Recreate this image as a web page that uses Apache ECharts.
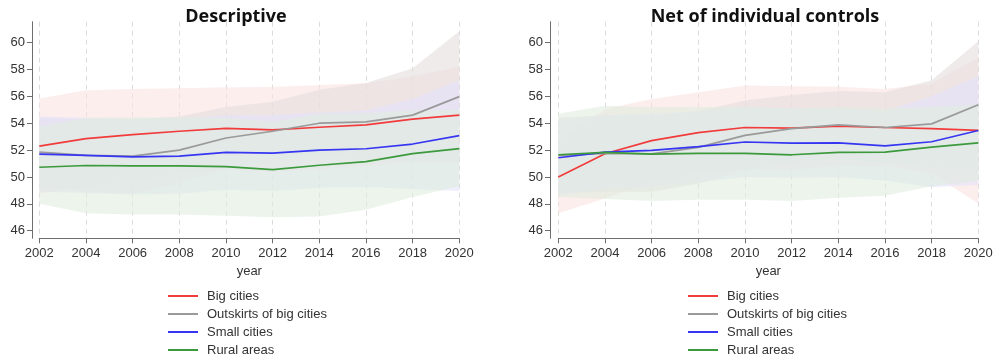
<!DOCTYPE html>
<html>
<head>
<meta charset="utf-8">
<script src="https://cdn.jsdelivr.net/npm/echarts@6/dist/echarts.min.js"></script>
<style>
  html, body { margin: 0; padding: 0; background: #fff; }
  #chart { width: 998px; height: 361px; }
</style>
</head>
<body>
<div id="chart"></div>
<script>
// Survey years on the horizontal axis
const years = ['2002', '2004', '2006', '2008', '2010', '2012', '2014', '2016', '2018', '2020'];
const yTicks = [46, 48, 50, 52, 54, 56, 58, 60];
const groupNames = ['Big cities', 'Outskirts of big cities', 'Small cities', 'Rural areas'];

// Panel 1: descriptive means and confidence bounds
const descBig       = [52.30, 52.85, 53.15, 53.40, 53.62, 53.50, 53.70, 53.87, 54.30, 54.60];
const descOutskirts = [51.85, 51.60, 51.55, 52.00, 52.90, 53.40, 54.00, 54.10, 54.60, 55.98];
const descSmall     = [51.70, 51.60, 51.50, 51.55, 51.83, 51.78, 52.00, 52.10, 52.45, 53.08];
const descRural     = [50.72, 50.85, 50.82, 50.82, 50.77, 50.54, 50.87, 51.14, 51.74, 52.11];

const descBigHi       = [55.85, 56.45, 56.55, 56.60, 56.68, 56.70, 56.85, 56.97, 57.50, 58.20];
const descBigLo       = [48.75, 49.25, 49.75, 50.20, 50.56, 50.30, 50.55, 50.77, 51.10, 51.00];
const descOutskirtsHi = [54.40, 54.30, 54.30, 54.50, 55.20, 55.60, 56.50, 57.00, 58.10, 60.85];
const descOutskirtsLo = [49.30, 48.90, 48.80, 49.50, 50.60, 51.20, 51.50, 51.20, 51.10, 51.10];
const descSmallHi     = [54.50, 54.40, 54.30, 54.35, 54.60, 54.60, 54.80, 54.95, 55.80, 57.20];
const descSmallLo     = [48.90, 48.80, 48.70, 48.75, 49.05, 48.95, 49.20, 49.25, 49.10, 48.95];
const descRuralHi     = [53.75, 54.40, 54.45, 54.45, 54.40, 54.10, 54.70, 54.75, 54.95, 55.00];
const descRuralLo     = [48.00, 47.30, 47.20, 47.20, 47.10, 47.00, 47.05, 47.55, 48.50, 49.30];

// Panel 2: means net of individual controls and confidence bounds
const netBig       = [50.00, 51.73, 52.70, 53.30, 53.68, 53.63, 53.78, 53.68, 53.60, 53.46];
const netOutskirts = [51.60, 51.75, 51.72, 52.20, 53.10, 53.60, 53.88, 53.68, 53.95, 55.38];
const netSmall     = [51.43, 51.85, 51.98, 52.25, 52.60, 52.52, 52.54, 52.32, 52.62, 53.46];
const netRural     = [51.65, 51.83, 51.70, 51.75, 51.75, 51.65, 51.83, 51.85, 52.22, 52.54];

const netBigHi       = [52.70, 55.05, 55.80, 56.30, 56.80, 56.75, 56.72, 56.55, 56.95, 58.90];
const netBigLo       = [47.30, 48.40, 49.60, 50.30, 50.55, 50.50, 50.84, 50.80, 50.25, 48.02];
const netOutskirtsHi = [54.40, 54.60, 54.50, 54.90, 55.70, 56.10, 56.40, 56.30, 57.20, 60.10];
const netOutskirtsLo = [48.80, 48.90, 48.90, 49.50, 50.50, 51.10, 51.36, 51.06, 50.70, 50.66];
const netSmallHi     = [54.20, 54.60, 54.70, 54.90, 55.20, 55.10, 55.10, 54.90, 56.00, 57.50];
const netSmallLo     = [48.66, 49.10, 49.26, 49.60, 50.00, 49.94, 49.98, 49.74, 49.24, 49.42];
const netRuralHi     = [54.70, 55.30, 55.20, 55.20, 55.20, 55.10, 55.20, 55.10, 55.20, 55.40];
const netRuralLo     = [48.50, 48.35, 48.20, 48.30, 48.30, 48.20, 48.45, 48.60, 49.30, 49.70];

const lineColors = ['#f23c3c', '#9a9a9a', '#3636f2', '#3c9a3c'];
// pale fills; later bands mostly cover earlier ones
const bandColors = [
  'rgba(252,226,226,0.6)',
  'rgba(228,222,222,0.6)',
  'rgba(227,227,252,0.6)',
  'rgba(224,236,224,0.6)'
];

const panels = [
  { means: [descBig, descOutskirts, descSmall, descRural],
    his: [descBigHi, descOutskirtsHi, descSmallHi, descRuralHi],
    los: [descBigLo, descOutskirtsLo, descSmallLo, descRuralLo] },
  { means: [netBig, netOutskirts, netSmall, netRural],
    his: [netBigHi, netOutskirtsHi, netSmallHi, netRuralHi],
    los: [netBigLo, netOutskirtsLo, netSmallLo, netRuralLo] }
];

const FONT = '"Liberation Sans", Arial, sans-serif';
const TEXT = '#333';

const series = [];
panels.forEach((p, k) => {
  // confidence bands: transparent lower bound + stacked width up to the upper bound
  for (let g = 0; g < 4; g++) {
    const stack = 'band' + k + '_' + g;
    series.push({
      type: 'line', xAxisIndex: k, yAxisIndex: k, stack: stack,
      data: p.los[g], showSymbol: false, silent: true,
      lineStyle: { opacity: 0 }, areaStyle: { opacity: 0 }, z: 1
    });
    series.push({
      type: 'line', xAxisIndex: k, yAxisIndex: k, stack: stack,
      data: p.his[g].map((v, i) => v - p.los[g][i]), showSymbol: false, silent: true,
      lineStyle: { opacity: 0 }, areaStyle: { color: bandColors[g], opacity: 1 }, z: 1
    });
  }
  // group means
  for (let g = 0; g < 4; g++) {
    series.push({
      name: groupNames[g], type: 'line', xAxisIndex: k, yAxisIndex: k,
      data: p.means[g], showSymbol: false, z: 3,
      itemStyle: { color: lineColors[g] },
      lineStyle: { color: lineColors[g], width: 1.7 }
    });
  }
});

function xAxis(k) {
  return {
    type: 'category', gridIndex: k, data: years, boundaryGap: false,
    name: 'year', nameLocation: 'middle', nameGap: 27,
    nameTextStyle: { fontFamily: FONT, fontSize: 13, color: TEXT },
    axisLine: { show: true, onZero: false, lineStyle: { color: '#6e6e6e', width: 1 } },
    axisTick: { show: true, length: 5, alignWithLabel: true, lineStyle: { color: '#6e6e6e' } },
    axisLabel: { margin: 9, interval: 0, fontFamily: FONT, fontSize: 13, color: TEXT },
    splitLine: { show: true, interval: 0, lineStyle: { color: '#dcdcdc', type: [5, 4], width: 1 } }
  };
}
function yAxis(k, offset) {
  return {
    type: 'value', gridIndex: k, min: 45.43, max: 61.56, offset: offset,
    axisLine: { show: true, lineStyle: { color: '#6e6e6e', width: 1 } },
    axisTick: { show: true, length: 5, customValues: yTicks, lineStyle: { color: '#6e6e6e' } },
    axisLabel: { margin: 7, fontFamily: FONT, fontSize: 13, color: TEXT, customValues: yTicks },
    splitLine: { show: false }
  };
}
function legend(left) {
  return {
    data: groupNames, orient: 'vertical', left: left, top: 287, padding: 0, height: 80,
    icon: 'rect', itemWidth: 30, itemHeight: 2, itemGap: 0,
    textStyle: { fontFamily: FONT, fontSize: 13, color: TEXT, lineHeight: 18, padding: [0, 0, 0, 4] },
    selectedMode: false
  };
}

const chart = echarts.init(document.getElementById('chart'), null, { renderer: 'canvas' });
chart.setOption({
  animation: false,
  backgroundColor: '#fff',
  grid: [
    { left: 39.3, right: 538.7, top: 21.7, bottom: 122.7 },
    { left: 558.3, right: 19.7, top: 21.7, bottom: 122.7 }
  ],
  xAxis: [xAxis(0), xAxis(1)],
  yAxis: [yAxis(0, 7.3), yAxis(1, 8.3)],
  legend: [legend(168), legend(688)],
  graphic: [
    { type: 'text', x: 236, y: 17, style: { text: 'Descriptive', font: 'bold 18px "Open Sans", sans-serif', fill: '#111', textAlign: 'center', textVerticalAlign: 'middle' } },
    { type: 'text', x: 765, y: 17, style: { text: 'Net of individual controls', font: 'bold 18px "Open Sans", sans-serif', fill: '#111', textAlign: 'center', textVerticalAlign: 'middle' } }
  ],
  series: series
});
</script>
</body>
</html>
